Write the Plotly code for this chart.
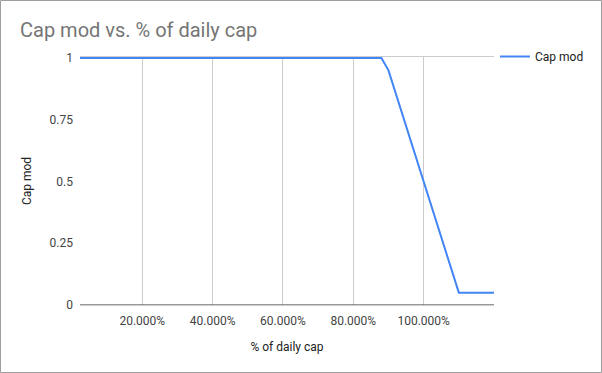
import plotly.graph_objects as go

# Data
pct_daily_cap = [0.02, 0.88, 0.90, 1.00, 1.10, 1.20]
cap_mod = [1.0, 1.0, 0.95, 0.5, 0.05, 0.05]
x_tickvals = [0.2, 0.4, 0.6, 0.8, 1.0]
y_tickvals = [0, 0.25, 0.5, 0.75, 1]
y_ticktext = ["0", "0.25", "0.5", "0.75", "1"]

W, H = 602, 373
ML, MR, MT, MB = 80, 108, 57, 68
pw, ph = W - ML - MR, H - MT - MB

fig = go.Figure()
fig.add_trace(go.Scatter(
    x=pct_daily_cap, y=cap_mod, mode="lines", name="Cap mod",
    line=dict(color="#4285F4", width=2),
))

fig.update_layout(
    width=W, height=H,
    margin=dict(l=ML, r=MR, t=MT, b=MB, autoexpand=False),
    paper_bgcolor="white", plot_bgcolor="white",
    font=dict(family="Roboto, Arial, sans-serif", size=12, color="#444444"),
    title=dict(text="Cap mod vs. % of daily cap", x=20 / W, xanchor="left",
               y=1 - 30 / H, yanchor="middle",
               font=dict(size=20, color="#757575")),
    showlegend=True,
    legend=dict(x=1 + 1 / pw, xanchor="left", y=1 + 15 / ph, yanchor="top",
                bgcolor="rgba(0,0,0,0)",
                font=dict(size=12, color="#222222"), itemwidth=30),
    xaxis=dict(range=[0.023, 1.2], tickvals=x_tickvals, tickformat=".3%",
               showgrid=True, gridcolor="#cccccc", gridwidth=1,
               showline=True, linecolor="#cccccc", mirror=True,
               zeroline=False, ticks="", tickfont=dict(color="#444444"),
               automargin=False, ticklabelstandoff=5,
               title=dict(text="% of daily cap", standoff=15,
                          font=dict(size=12, color="#222222"))),
    yaxis=dict(range=[0, 1.004], tickvals=y_tickvals, ticktext=y_ticktext,
               showgrid=False, zeroline=False, showline=False, ticks="",
               ticklabelstandoff=6, automargin=False,
               title=dict(text="Cap mod", standoff=15,
                          font=dict(size=12, color="#222222"))),
    shapes=[
        dict(type="line", xref="paper", yref="y", x0=0, x1=1, y0=0, y1=0,
             line=dict(color="#333333", width=1)),
        dict(type="rect", xref="paper", yref="paper",
             x0=-(ML - 0.5) / pw, x1=1 + (MR - 0.5) / pw,
             y0=-(MB - 0.5) / ph, y1=1 + (MT - 0.5) / ph,
             line=dict(color="#9e9e9e", width=1)),
    ],
)

fig.write_html("out.html", config={"displayModeBar": False},
               post_script="document.body.style.margin='0';document.body.style.padding='0';document.body.style.overflow='hidden';")
